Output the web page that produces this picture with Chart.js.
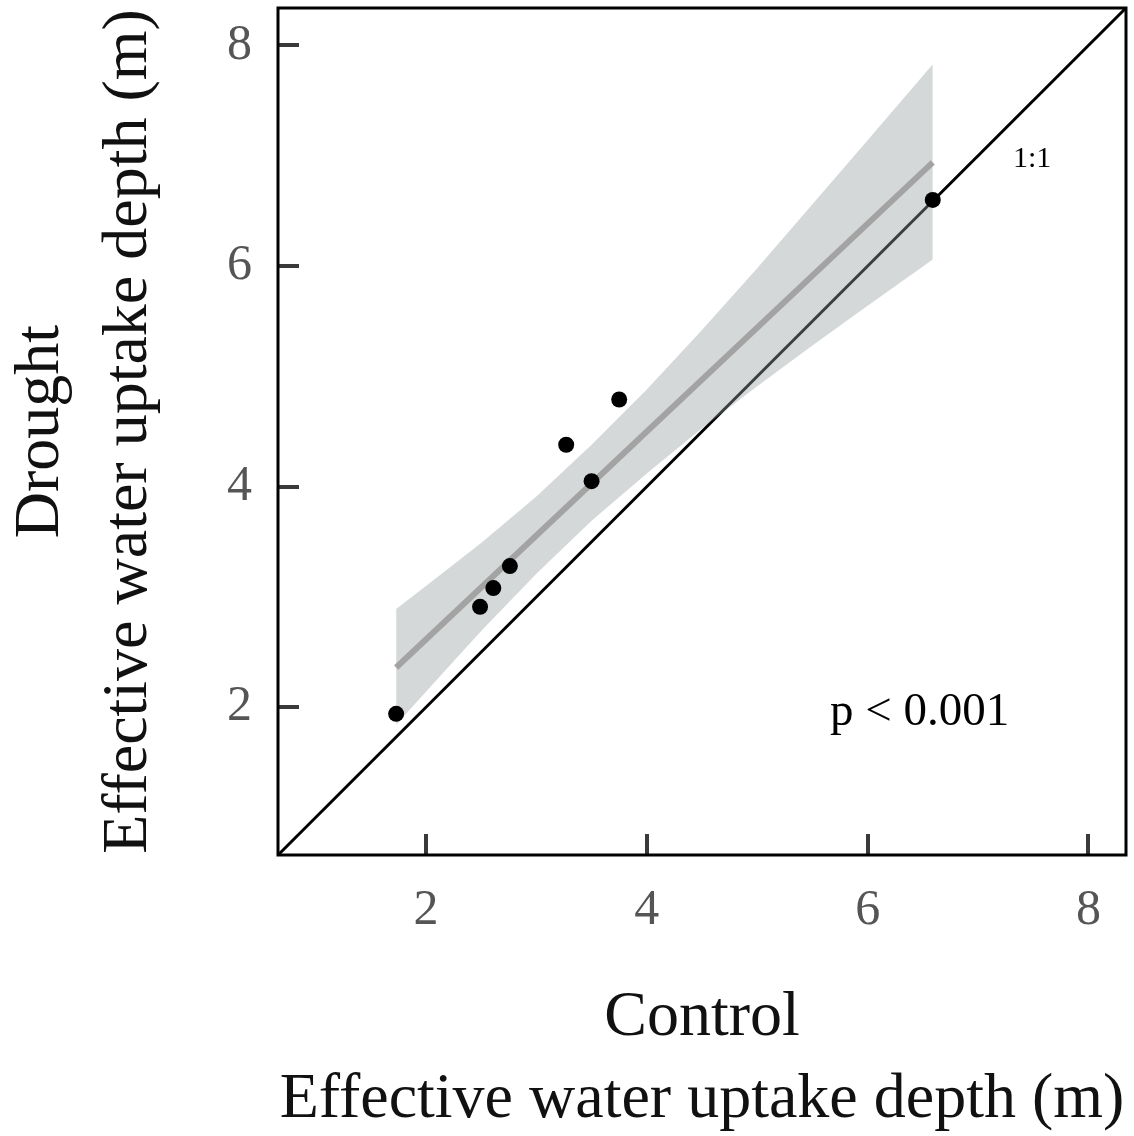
<!DOCTYPE html>
<html>
<head>
<meta charset="utf-8">
<script src="https://cdn.jsdelivr.net/npm/chart.js@4.4.1/dist/chart.umd.min.js"></script>
<style>
  html, body { margin: 0; padding: 0; background: #fff; }
  #wrap { width: 1134px; height: 1136px; }
</style>
</head>
<body>
<div id="wrap"><canvas id="c" width="1134" height="1136"></canvas></div>
<script>
// Effective water uptake depth (m) per site: control vs drought
const controlDepth = [1.73, 2.49, 2.61, 2.76, 3.27, 3.50, 3.75, 6.59];
const droughtDepth = [1.94, 2.91, 3.08, 3.28, 4.38, 4.05, 4.79, 6.60];

// Linear fit end points
const fitX = [1.73, 6.59];
const fitY = [2.36, 6.94];

// 95% confidence band of the fit
const bandX     = [1.73, 2.00, 2.50, 3.00, 3.50, 4.00, 4.50, 5.00, 5.50, 6.00, 6.59];
const bandUpper = [2.89, 3.10, 3.49, 3.91, 4.38, 4.88, 5.42, 5.98, 6.56, 7.14, 7.83];
const bandLower = [1.84, 2.14, 2.69, 3.21, 3.69, 4.12, 4.53, 4.91, 5.28, 5.64, 6.06];

// Axis range and ticks (both axes share them)
const axisMin = 0.66;
const axisMax = 8.34;
const tickValues = [2, 4, 6, 8];

const xTitle = ['Control', 'Effective water uptake depth (m)'];
const yTitle = ['Drought', 'Effective water uptake depth (m)'];
const oneToOneLabel = '1:1';
const pLabel = 'p < 0.001';

const SERIF = '"Liberation Serif", "Times New Roman", serif';

const zip = (xs, ys) => xs.map((x, i) => ({ x, y: ys[i] }));

const framePlugin = {
  id: 'frame',
  afterDraw(chart) {
    const { ctx, chartArea: a, scales } = chart;
    const xs = scales.x, ys = scales.y;
    ctx.save();

    // tick marks pointing inward
    ctx.strokeStyle = '#3a3a3a';
    ctx.lineWidth = 4;
    ctx.lineCap = 'butt';
    tickValues.forEach(v => {
      const px = Math.round(xs.getPixelForValue(v));
      ctx.beginPath();
      ctx.moveTo(px, a.bottom);
      ctx.lineTo(px, a.bottom - 21);
      ctx.stroke();
      const py = Math.round(ys.getPixelForValue(v));
      ctx.beginPath();
      ctx.moveTo(a.left, py);
      ctx.lineTo(a.left + 21, py);
      ctx.stroke();
    });

    // panel border
    ctx.strokeStyle = '#000';
    ctx.lineWidth = 3;
    ctx.strokeRect(a.left, a.top, a.right - a.left, a.bottom - a.top);

    // annotations
    ctx.fillStyle = '#000';
    ctx.textAlign = 'center';
    ctx.textBaseline = 'middle';
    ctx.font = '30px ' + SERIF;
    ctx.fillText(oneToOneLabel, xs.getPixelForValue(7.49), ys.getPixelForValue(6.97));
    ctx.font = '47px ' + SERIF;
    ctx.fillText(pLabel, xs.getPixelForValue(6.47), ys.getPixelForValue(1.95));

    // axis titles
    ctx.fillStyle = '#111';
    ctx.font = '64px ' + SERIF;
    ctx.textBaseline = 'alphabetic';
    const cx = (a.left + a.right) / 2;
    ctx.fillText(xTitle[0], cx, 1035);
    ctx.fillText(xTitle[1], cx, 1117);

    const cy = (a.top + a.bottom) / 2;
    ctx.translate(0, cy);
    ctx.rotate(-Math.PI / 2);
    ctx.fillText(yTitle[0], 0, 58);
    ctx.fillText(yTitle[1], 0, 146);
    ctx.restore();
  }
};

// no extra room for end labels: the panel fills its box exactly
const zeroPadding = s => {
  s.paddingTop = 0; s.paddingBottom = 0; s.paddingLeft = 0; s.paddingRight = 0;
};

const axisCommon = {
  type: 'linear',
  min: axisMin,
  max: axisMax,
  afterBuildTicks: scale => { scale.ticks = tickValues.map(v => ({ value: v })); },
  grid: { display: false, drawTicks: false },
  border: { display: false },
  ticks: {
    font: { family: SERIF, size: 50 },
    color: '#555',
    maxRotation: 0,
    autoSkip: false
  }
};

new Chart(document.getElementById('c'), {
  type: 'line',
  data: {
    datasets: [
      {
        label: 'sites',
        data: zip(controlDepth, droughtDepth),
        showLine: false,
        pointRadius: 8,
        pointBackgroundColor: '#000',
        pointBorderWidth: 0
      },
      {
        label: 'fit',
        data: zip(fitX, fitY),
        borderColor: '#a3a3a3',
        borderWidth: 6,
        pointRadius: 0,
        fill: false
      },
      {
        label: 'upper',
        data: zip(bandX, bandUpper),
        borderColor: 'rgba(0,0,0,0)',
        borderWidth: 0,
        pointRadius: 0,
        fill: '+1',
        backgroundColor: 'rgba(150,158,158,0.4)'
      },
      {
        label: 'lower',
        data: zip(bandX, bandLower),
        borderColor: 'rgba(0,0,0,0)',
        borderWidth: 0,
        pointRadius: 0,
        fill: false
      },
      {
        label: '1:1',
        data: [{ x: axisMin, y: axisMin }, { x: axisMax, y: axisMax }],
        borderColor: '#000',
        borderWidth: 3,
        pointRadius: 0,
        fill: false
      }
    ]
  },
  options: {
    responsive: false,
    animation: false,
    events: [],
    layout: { padding: { top: 6, right: 7, left: 0, bottom: 0 } },
    plugins: { legend: { display: false }, tooltip: { enabled: false } },
    scales: {
      x: Object.assign({}, axisCommon, {
        position: 'bottom',
        afterFit: s => { s.height = 281; zeroPadding(s); },
        ticks: Object.assign({}, axisCommon.ticks, { padding: 26 })
      }),
      y: Object.assign({}, axisCommon, {
        position: 'left',
        afterFit: s => { s.width = 278; zeroPadding(s); },
        ticks: Object.assign({}, axisCommon.ticks, { padding: 26 })
      })
    }
  },
  plugins: [framePlugin]
});
</script>
</body>
</html>
